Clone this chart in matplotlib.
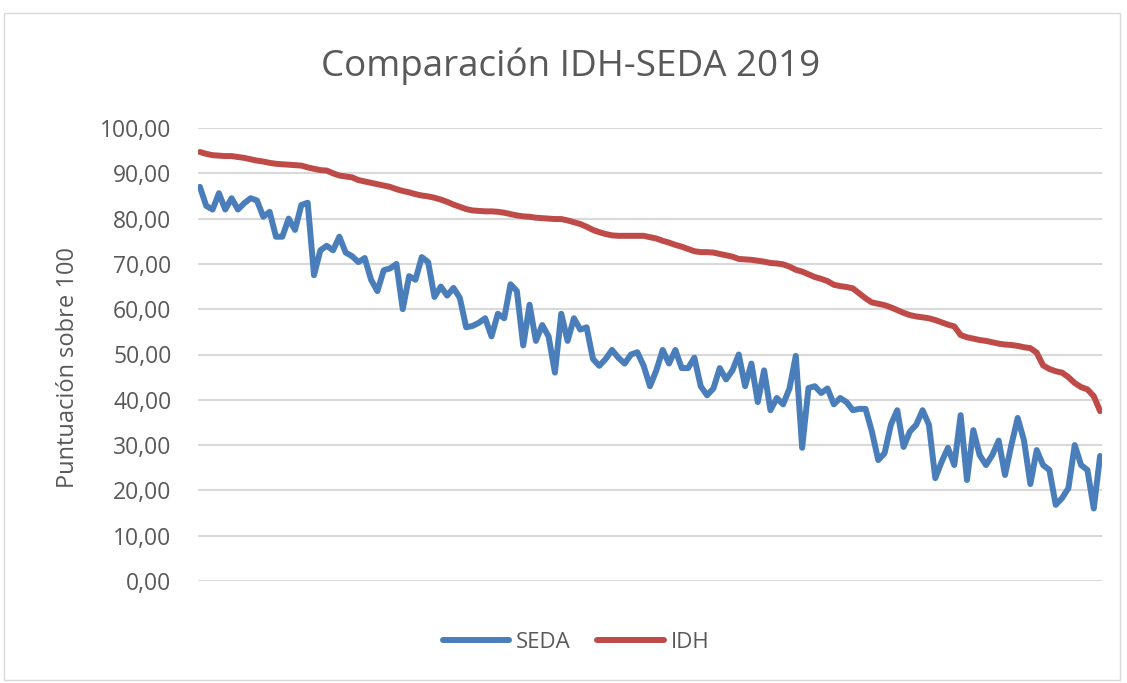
import matplotlib
matplotlib.use("Agg")
import matplotlib.pyplot as plt
from matplotlib.patches import Rectangle
from matplotlib.ticker import FuncFormatter
import numpy as np

title = "Comparación IDH-SEDA 2019"
ylabel = "Puntuación sobre 100"
series_names = ["SEDA", "IDH"]

seda = [87.0, 82.8, 82.0, 85.6, 82.0, 84.5, 82.0, 83.4, 84.5, 84.0,
        80.4, 81.5, 76.0, 76.0, 80.0, 77.5, 83.0, 83.5, 67.5, 73.0,
        74.0, 73.0, 76.0, 72.5, 71.7, 70.4, 71.3, 66.5, 64.0, 68.6,
        69.0, 70.0, 60.0, 67.3, 66.5, 71.5, 70.4, 62.7, 65.0, 63.0,
        64.7, 62.5, 56.0, 56.3, 57.0, 58.0, 54.0, 59.0, 58.0, 65.5,
        64.0, 52.0, 61.0, 53.0, 56.5, 54.0, 46.0, 59.0, 53.0, 58.0,
        55.5, 56.0, 49.0, 47.5, 49.0, 51.0, 49.3, 48.0, 50.0, 50.5,
        47.5, 43.0, 46.5, 51.0, 48.0, 51.0, 47.0, 47.0, 49.3, 43.0,
        41.0, 42.5, 47.0, 44.5, 46.5, 50.0, 43.0, 48.0, 39.5, 46.5,
        37.7, 40.4, 39.0, 42.5, 49.7, 29.4, 42.6, 43.0, 41.5, 42.5,
        39.0, 40.4, 39.5, 37.7, 38.0, 38.0, 33.0, 26.7, 28.2, 34.5,
        37.7, 29.6, 33.0, 34.5, 37.7, 34.5, 22.7, 26.3, 29.4, 25.6,
        36.6, 22.3, 33.3, 27.8, 25.6, 27.8, 31.0, 23.4, 30.0, 36.0,
        31.0, 21.4, 28.9, 25.6, 24.5, 16.8, 18.3, 20.5, 30.0, 25.6,
        24.5, 16.0, 27.6]

idh = [94.7, 94.3, 94.0, 93.9, 93.8, 93.8, 93.6, 93.4, 93.1, 92.8,
       92.6, 92.3, 92.1, 92.0, 91.9, 91.8, 91.7, 91.3, 91.0, 90.7,
       90.6, 90.0, 89.5, 89.3, 89.1, 88.5, 88.2, 87.9, 87.6, 87.3,
       87.0, 86.5, 86.1, 85.8, 85.4, 85.1, 84.9, 84.6, 84.2, 83.7,
       83.1, 82.6, 82.1, 81.8, 81.7, 81.6, 81.6, 81.5, 81.3, 81.0,
       80.7, 80.5, 80.4, 80.2, 80.1, 80.0, 79.9, 79.9, 79.6, 79.2,
       78.8, 78.2, 77.5, 77.0, 76.6, 76.3, 76.2, 76.2, 76.2, 76.2,
       76.2, 75.9, 75.6, 75.1, 74.7, 74.2, 73.8, 73.3, 72.8, 72.6,
       72.6, 72.5, 72.2, 71.9, 71.6, 71.1, 71.0, 70.9, 70.7, 70.5,
       70.2, 70.1, 69.9, 69.4, 68.7, 68.3, 67.7, 67.1, 66.7, 66.2,
       65.4, 65.1, 64.9, 64.6, 63.5, 62.4, 61.5, 61.2, 60.9, 60.4,
       59.8, 59.2, 58.7, 58.4, 58.2, 58.0, 57.6, 57.1, 56.6, 56.2,
       54.3, 53.8, 53.5, 53.2, 53.0, 52.7, 52.4, 52.2, 52.1, 51.9,
       51.6, 51.4, 50.4, 47.6, 46.8, 46.3, 46.0, 45.0, 43.7, 42.8,
       42.3, 40.8, 37.5]

yticks = list(range(0, 101, 10))

W, H = 1127, 683
fig = plt.figure(figsize=(W / 100, H / 100), dpi=100)
fig.patch.set_facecolor("white")
plt.rcParams['font.family'] = ['Open Sans', 'DejaVu Sans']

# chart frame
fig.patches.append(Rectangle((4 / W, 1 - 680 / H), (1120 - 4) / W, (680 - 13) / H,
                             transform=fig.transFigure, fill=False,
                             edgecolor="#d9d9d9", linewidth=1.0))

left, right, top, bottom = 198, 1102, 128, 581
ax = fig.add_axes([left / W, 1 - bottom / H, (right - left) / W, (bottom - top) / H])
x = np.arange(len(seda))
text_color = "#595959"

ax.plot(x, seda, color="#4a7ebb", linewidth=4.3, solid_capstyle="round",
        solid_joinstyle="round", label=series_names[0], zorder=3)
ax.plot(x, idh, color="#be4b48", linewidth=4.3, solid_capstyle="round",
        solid_joinstyle="round", label=series_names[1], zorder=3)

ax.set_xlim(-0.3, len(seda) - 1 + 0.3)
ax.set_ylim(0, 100)
ax.set_yticks(yticks)
ax.yaxis.set_major_formatter(FuncFormatter(lambda v, p: f"{v:.2f}".replace(".", ",")))
ax.set_xticks([])
ax.grid(axis="y", color="#d9d9d9", linewidth=1.5, zorder=0)
ax.set_axisbelow(True)
for s in ax.spines.values():
    s.set_visible(False)
ax.tick_params(axis="y", length=0, pad=19, labelsize=16.5, labelcolor=text_color)

fig.text(571 / W, 1 - 66 / H, title, ha="center", va="center", fontsize=26.5,
         color=text_color)
fig.text(68 / W, 1 - 368 / H, ylabel, ha="center", va="center", rotation=90,
         fontsize=17, color=text_color)

leg = fig.legend(loc="center", bbox_to_anchor=(576 / W, 1 - 642 / H), ncol=2,
                 frameon=False, fontsize=16, handlelength=3.0, handletextpad=0.3,
                 columnspacing=1.2)
for t in leg.get_texts():
    t.set_color(text_color)

fig.savefig("out.png", dpi=100, facecolor="white")
